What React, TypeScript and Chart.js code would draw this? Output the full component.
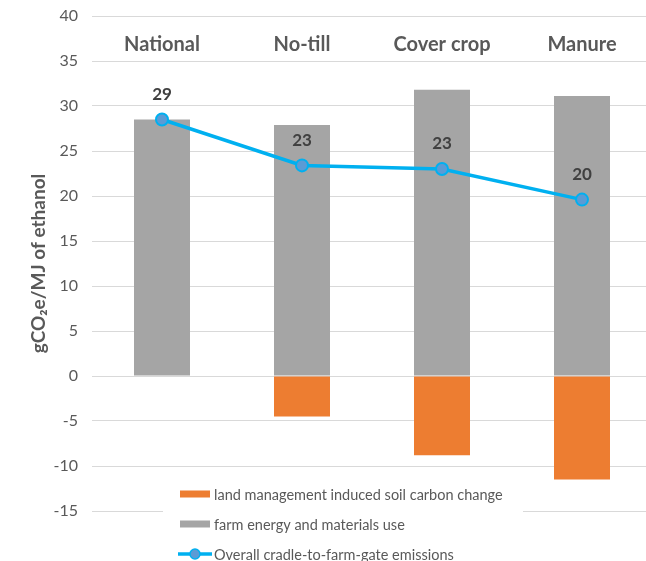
import React, { useEffect, useRef } from "react";
import { Chart, registerables } from "chart.js";

Chart.register(...registerables);

const categories = ["National", "No-till", "Cover crop", "Manure"];
const soilCarbonChange = [0, -4.5, -8.8, -11.5];
const farmEnergyUse = [28.5, 27.9, 31.8, 31.1];
const overallEmissions = [28.5, 23.4, 23.0, 19.6];
const seriesNames = [
  "land management induced soil carbon change",
  "farm energy and materials use",
  "Overall cradle-to-farm-gate emissions",
];
const yMin = -15;
const yMax = 40;
const yStep = 5;

const FONT = "Lato, 'Open Sans', 'DejaVu Sans', sans-serif";
const ORANGE = "#ED7D31";
const GRAY = "#A5A5A5";
const LINE = "#00B0F0";
const POINT = "#5B9BD5";
const TEXT = "#595959";

const overlayPlugin = {
  id: "overlay",
  afterDatasetsDraw(chart: any) {
    const ctx = chart.ctx;
    const xs = chart.scales.x;
    const ys = chart.scales.y;
    const area = chart.chartArea;
    ctx.save();
    // category labels
    ctx.font = `bold 20px ${FONT}`;
    ctx.fillStyle = TEXT;
    ctx.textAlign = "center";
    ctx.textBaseline = "middle";
    categories.forEach((c, i) => {
      ctx.fillText(c, xs.getPixelForValue(i), area.top + 29);
    });
    // data labels
    ctx.font = `bold 17px ${FONT}`;
    ctx.fillStyle = "#404040";
    overallEmissions.forEach((v, i) => {
      ctx.fillText(String(Math.round(v)), xs.getPixelForValue(i), ys.getPixelForValue(v) - 25);
    });
    // legend box
    const lx = 163;
    const ly = 478;
    ctx.fillStyle = "#FFFFFF";
    ctx.fillRect(lx, ly, 360, chart.height - ly);
    ctx.font = `14.5px ${FONT}`;
    ctx.textAlign = "left";
    ctx.textBaseline = "middle";
    const rows = [494, 524, 554];
    ctx.fillStyle = ORANGE;
    ctx.fillRect(180, rows[0] - 3.5, 30, 7);
    ctx.fillStyle = GRAY;
    ctx.fillRect(180, rows[1] - 3.5, 30, 7);
    ctx.strokeStyle = LINE;
    ctx.lineWidth = 3.5;
    ctx.beginPath();
    ctx.moveTo(178, rows[2]);
    ctx.lineTo(212, rows[2]);
    ctx.stroke();
    ctx.beginPath();
    ctx.arc(195, rows[2], 5, 0, Math.PI * 2);
    ctx.fillStyle = POINT;
    ctx.fill();
    ctx.lineWidth = 1.5;
    ctx.stroke();
    ctx.fillStyle = TEXT;
    seriesNames.forEach((n, i) => {
      ctx.fillText(n, 214, rows[i] + 1);
    });
    ctx.restore();
  },
};

export default function App() {
  const ref = useRef<HTMLCanvasElement | null>(null);
  useEffect(() => {
    if (!ref.current) return;
    const chart = new Chart(ref.current, {
      type: "bar",
      data: {
        labels: categories,
        datasets: [
          {
            type: "line",
            label: seriesNames[2],
            data: overallEmissions,
            borderColor: LINE,
            borderWidth: 3.5,
            backgroundColor: POINT,
            pointBackgroundColor: POINT,
            pointBorderColor: LINE,
            pointBorderWidth: 2,
            pointRadius: 6,
            tension: 0,
            stack: "line",
            order: 0,
          } as any,
          {
            type: "bar",
            label: seriesNames[0],
            data: soilCarbonChange,
            backgroundColor: ORANGE,
            stack: "s",
            categoryPercentage: 0.8,
            barPercentage: 0.5,
            order: 1,
          },
          {
            type: "bar",
            label: seriesNames[1],
            data: farmEnergyUse,
            backgroundColor: GRAY,
            stack: "s",
            categoryPercentage: 0.8,
            barPercentage: 0.5,
            order: 1,
          },
        ],
      },
      options: {
        animation: false,
        responsive: false,
        devicePixelRatio: 1,
        layout: { padding: { top: 16, bottom: 50, left: 0, right: 8 } },
        plugins: {
          legend: { display: false },
          tooltip: { enabled: false },
        },
        scales: {
          x: {
            display: false,
            stacked: true,
            grid: { display: false },
          },
          y: {
            stacked: true,
            min: yMin,
            max: yMax,
            border: { display: false },
            grid: { color: "#D9D9D9", lineWidth: 1, drawTicks: false },
            ticks: {
              stepSize: yStep,
              padding: 14,
              color: TEXT,
              font: { family: FONT, size: 16 },
            },
            title: {
              display: true,
              text: "gCO₂e/MJ of ethanol",
              color: TEXT,
              font: { family: FONT, size: 19, weight: "bold" },
              padding: { top: 27, bottom: 0 },
            },
            afterFit: (scale: any) => {
              scale.width = 92;
              scale.paddingTop = 8;
              scale.paddingBottom = 8;
            },
          },
        },
      },
      plugins: [overlayPlugin],
    });
    return () => chart.destroy();
  }, []);
  return (
    <div
      style={{
        position: "fixed",
        left: 0,
        top: 0,
        width: 646,
        height: 561,
        overflow: "hidden",
        background: "#fff",
      }}
    >
      <canvas ref={ref} width={660} height={561} style={{ width: 660, height: 561, display: "block" }} />
    </div>
  );
}
